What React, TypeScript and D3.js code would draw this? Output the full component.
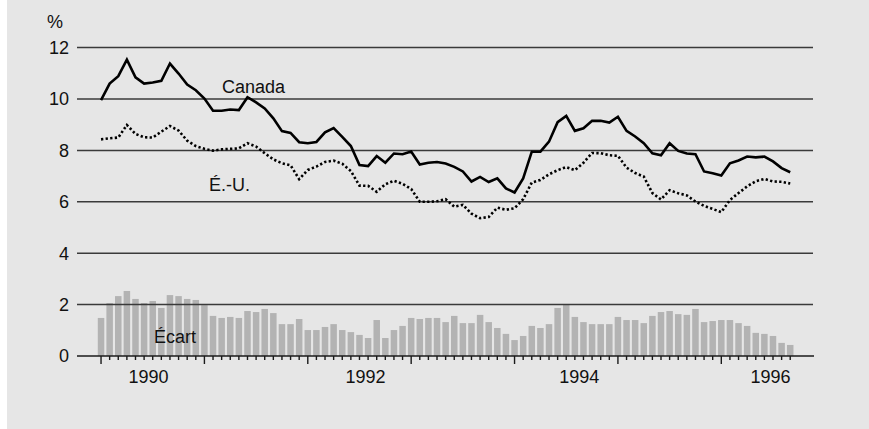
import React from "react";
import * as d3 from "d3";

const canada = [9.96,10.60,10.89,11.53,10.84,10.60,10.64,10.71,11.38,10.99,10.56,10.34,10.02,9.54,9.54,9.59,9.57,10.07,9.87,9.63,9.25,8.75,8.68,8.32,8.28,8.33,8.70,8.87,8.53,8.17,7.43,7.39,7.78,7.52,7.88,7.85,7.96,7.45,7.52,7.55,7.49,7.36,7.18,6.79,6.97,6.77,6.91,6.52,6.36,6.91,7.95,7.95,8.34,9.10,9.34,8.76,8.86,9.15,9.15,9.08,9.31,8.76,8.54,8.28,7.89,7.81,8.28,7.98,7.88,7.85,7.18,7.11,7.02,7.50,7.61,7.76,7.73,7.76,7.57,7.31,7.15];
const usa = [8.43,8.47,8.50,8.99,8.64,8.51,8.50,8.73,8.95,8.77,8.38,8.17,8.06,7.99,8.04,8.06,8.08,8.28,8.15,7.89,7.65,7.50,7.42,6.88,7.24,7.37,7.55,7.60,7.48,7.20,6.63,6.62,6.39,6.68,6.82,6.70,6.50,6.00,6.00,6.02,6.10,5.81,5.88,5.54,5.36,5.41,5.77,5.69,5.75,6.10,6.75,6.85,7.07,7.23,7.35,7.23,7.52,7.90,7.89,7.81,7.79,7.33,7.12,6.98,6.34,6.09,6.45,6.33,6.25,6.01,5.84,5.72,5.60,6.07,6.34,6.60,6.80,6.89,6.79,6.78,6.71];
const spread = [1.48,2.06,2.33,2.53,2.22,2.06,2.14,1.87,2.37,2.33,2.22,2.18,1.98,1.56,1.48,1.52,1.48,1.75,1.71,1.83,1.67,1.24,1.24,1.44,1.01,1.01,1.13,1.24,1.01,0.93,0.82,0.70,1.40,0.70,1.01,1.17,1.48,1.44,1.48,1.48,1.32,1.56,1.28,1.28,1.60,1.32,1.09,0.86,0.62,0.78,1.17,1.09,1.24,1.87,2.02,1.52,1.32,1.24,1.24,1.24,1.52,1.40,1.40,1.28,1.56,1.71,1.75,1.63,1.60,1.83,1.32,1.36,1.40,1.40,1.28,1.17,0.90,0.86,0.78,0.51,0.43];
const yTicks = [0, 2, 4, 6, 8, 10, 12];
const yearLabels = ["1990", "1992", "1994", "1996"];
const yearLabelMonth = [5.5, 30.7, 55.5, 77.7];
const seriesLabels = { canada: "Canada", usa: "É.-U.", spread: "Écart", unit: "%" };

const W = 869, H = 429;
const FONT = "'Liberation Sans', Arial, Helvetica, sans-serif";

export default function App() {
  const n = canada.length;
  const x = d3.scaleLinear().domain([-2.79, 82.76]).range([77, 814]);
  const y = d3.scaleLinear().domain([0, 12]).range([356, 47.6]);
  const idx = d3.range(n);
  const barW = 6.5;
  const line = d3.line<number>().x((d, i) => x(i)).y((d) => y(d));
  const months = d3.range(0, n);

  return (
    <div style={{ position: "fixed", left: 0, top: 0, width: W, height: H }}>
      <svg width={W} height={H} style={{ display: "block" }} fontFamily={FONT}>
        <rect x={0} y={0} width={W} height={H} fill="#ffffff" />
        <rect x={7} y={0} width={W - 7} height={H} fill="#e6e6e6" />
        {idx.map((i) => (
          <rect key={"b" + i} x={x(i) - barW / 2} y={y(spread[i])} width={barW} height={y(0) - y(spread[i])} fill="#b3b3b3" />
        ))}
        {yTicks.filter((t) => t > 0).map((t) => (
          <line key={"g" + t} x1={77} x2={813} y1={y(t)} y2={y(t)} stroke="#3a3a3a" strokeWidth={1.5} />
        ))}
        <line x1={77} x2={814} y1={y(0)} y2={y(0)} stroke="#1a1a1a" strokeWidth={1.5} />
        {months.map((m) => (
          <line key={"t" + m} x1={x(m)} x2={x(m)} y1={y(0)} y2={y(0) + (m % 12 === 0 ? 8 : 4)} stroke="#1a1a1a" strokeWidth={1.4} />
        ))}
        {yTicks.map((t) => (
          <text key={"yl" + t} x={69} y={y(t)} dy="0.35em" textAnchor="end" fontSize={18} fill="#111">{t}</text>
        ))}
        <text x={47} y={28} fontSize={18} fill="#111">{seriesLabels.unit}</text>
        {yearLabels.map((lab, k) => (
          <text key={"xl" + lab} x={x(yearLabelMonth[k])} y={382.5} textAnchor="middle" fontSize={18} fill="#111">{lab}</text>
        ))}
        <path d={line(usa) || ""} fill="none" stroke="#000" strokeWidth={2.6} strokeDasharray="2.3 2.3" />
        <path d={line(canada) || ""} fill="none" stroke="#000" strokeWidth={2.6} strokeLinejoin="miter" />
        <text x={222} y={93} fontSize={18} fill="#111">{seriesLabels.canada}</text>
        <text x={209} y={191} fontSize={18} fill="#111">{seriesLabels.usa}</text>
        <text x={154} y={343} fontSize={18} fill="#111">{seriesLabels.spread}</text>
      </svg>
    </div>
  );
}
